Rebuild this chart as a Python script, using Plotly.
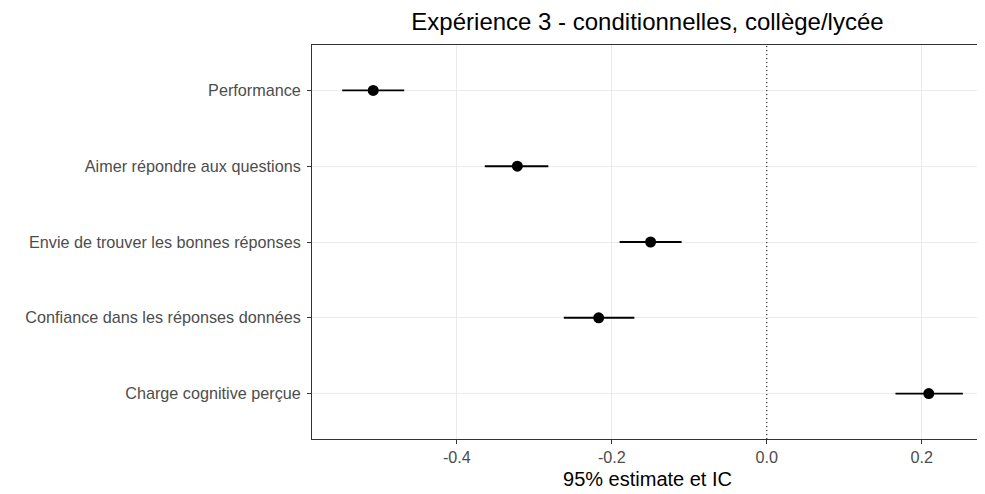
import plotly.graph_objects as go

# data
items = [
    "Performance",
    "Aimer répondre aux questions",
    "Envie de trouver les bonnes réponses",
    "Confiance dans les réponses données",
    "Charge cognitive perçue",
]
estimate = [-0.508, -0.322, -0.150, -0.217, 0.209]
ci_low = [-0.548, -0.364, -0.190, -0.262, 0.166]
ci_high = [-0.468, -0.282, -0.110, -0.171, 0.253]

x_ticks = [-0.4, -0.2, 0.0, 0.2]
x_tick_text = ["-0.4", "-0.2", "0.0", "0.2"]

err_plus = [h - e for h, e in zip(ci_high, estimate)]
err_minus = [e - l for e, l in zip(estimate, ci_low)]

font_fam = "Arial, Liberation Sans, sans-serif"

fig = go.Figure()
fig.add_trace(go.Scatter(
    x=estimate, y=items, mode="markers",
    marker=dict(color="black", size=11),
    error_x=dict(type="data", symmetric=False, array=err_plus, arrayminus=err_minus,
                 color="black", thickness=1.8, width=0),
    showlegend=False,
))

# dotted reference line at zero
fig.add_vline(x=0, line=dict(color="black", width=1, dash="1px,3px"))

# page body has an 8px margin, so the figure is sized to fit inside the window
fig.update_layout(
    width=977, height=486,
    margin=dict(l=304, r=2, t=37, b=55),
    paper_bgcolor="white", plot_bgcolor="white",
    font=dict(family=font_fam, color="#4D4D4D", size=16.2),
    title=dict(text="Expérience 3 - conditionnelles, collège/lycée",
               xref="paper", x=0.5, xanchor="center",
               yref="container", y=0.972, yanchor="middle",
               font=dict(size=24, color="black", family=font_fam)),
)
fig.update_xaxes(
    range=[-0.587, 0.279], tickvals=x_ticks, ticktext=x_tick_text,
    showgrid=True, gridcolor="#EBEBEB", gridwidth=1, zeroline=False,
    showline=True, linecolor="#333333", linewidth=1, mirror=True,
    ticks="outside", ticklen=4, tickcolor="#333333",
    title=dict(text="95% estimate et IC", font=dict(size=20, color="black"), standoff=6),
)
fig.update_yaxes(
    categoryorder="array", categoryarray=items[::-1], range=[-0.6, 4.6],
    showgrid=True, gridcolor="#EBEBEB", gridwidth=1, zeroline=False,
    showline=True, linecolor="#333333", linewidth=1, mirror=True,
    ticks="outside", ticklen=4, tickcolor="#333333", ticklabelstandoff=3,
)

fig.write_html("out.html")
